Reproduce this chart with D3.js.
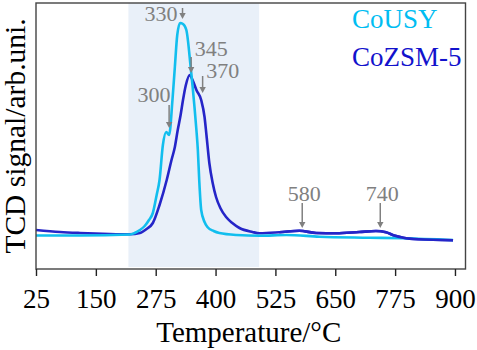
<!DOCTYPE html>
<html>
<head>
<meta charset="utf-8">
<script src="https://cdn.jsdelivr.net/npm/d3@7"></script>
<style>
  html, body { margin: 0; padding: 0; background: #fff; }
  svg { display: block; }
  text { font-family: "Liberation Serif", "Times New Roman", serif; }
</style>
</head>
<body>
<svg id="chart" width="477" height="350"></svg>
<script>
// ---- data (temperature in °C, signal in arbitrary units) ----
const xTicks = [25, 150, 275, 400, 525, 650, 775, 900];
const shadedRange = [218, 491];

const coUSY_T = [25, 117, 221, 231, 242, 252, 261, 269, 277, 283, 290, 297, 303, 310, 315, 320, 326, 332, 339, 348, 356, 360, 363, 366, 370, 377, 383, 396, 408, 444, 492, 548, 617, 721, 792, 896];
const coUSY_V = [33.5, 33.5, 34.5, 36, 39, 43, 49, 56, 74, 89, 124, 137, 134, 169, 202, 234, 246, 245, 239, 202, 162, 139, 119, 88, 59, 47, 42, 38, 36, 34, 33.3, 34, 32.3, 31.3, 30.7, 29];

const coZSM_T = [25, 75, 117, 179, 221, 242, 256, 269, 283, 298, 308, 315, 321, 327, 332, 338, 346, 352, 360, 370, 377, 381, 387, 394, 401, 410, 422, 435, 450, 477, 492, 533, 575, 610, 652, 700, 735, 756, 773, 792, 825, 896];
const coZSM_V = [39, 37, 36, 35, 34.7, 36, 40, 46, 64, 89, 109, 122, 139, 154, 169, 184, 194, 189, 179, 169, 152, 134, 106, 86, 72, 61, 52, 46, 41, 37, 35.7, 36.7, 38.3, 36, 35.7, 37, 38, 36.7, 33.5, 31.3, 29.7, 28.7];

const peakLabels = ["330", "345", "370", "300", "580", "740"];
const peakT      = [331, 349, 373, 303, 581, 744];
const arrowTop   = [261, 212, 193, 164, 66, 66];
const arrowBot   = [250, 196, 176, 141, 41, 41];

const seriesNames  = ["CoUSY", "CoZSM-5"];
const seriesColors = ["#12BEEE", "#2525C8"];
const legendColors = ["#00BDF2", "#1212CC"];

// ---- layout ----
const svg = d3.select("#chart");
const L = 36, R = 465.5, T = 3, B = 269;

const x = d3.scaleLinear().domain([25, 922]).range([L, R]);
const y = d3.scaleLinear().domain([0, 266]).range([B, T]);

// shaded region
svg.append("rect")
  .attr("x", x(shadedRange[0])).attr("y", T)
  .attr("width", x(shadedRange[1]) - x(shadedRange[0]))
  .attr("height", B - T - 2)
  .attr("fill", "#E9F0F9");

// curves
const line = d3.line().x(d => x(d[0])).y(d => y(d[1])).curve(d3.curveMonotoneX);
const series = [
  d3.zip(coZSM_T, coZSM_V),
  d3.zip(coUSY_T, coUSY_V)
];
const colorsOrder = [seriesColors[1], seriesColors[0]];
series.forEach((s, i) => {
  svg.append("path").datum(s)
    .attr("d", line)
    .attr("fill", "none")
    .attr("stroke", colorsOrder[i])
    .attr("stroke-width", 2.6)
    .attr("stroke-linejoin", "round");
});
// dark blue on top along the right-hand baseline
svg.append("path").datum(series[0].filter(d => d[0] >= 500))
  .attr("d", line).attr("fill", "none")
  .attr("stroke", seriesColors[1]).attr("stroke-width", 2.6);

// frame
svg.append("rect")
  .attr("x", L).attr("y", T).attr("width", R - L).attr("height", B - T)
  .attr("fill", "none").attr("stroke", "#444").attr("stroke-width", 1.4);

// x axis
const xAxis = d3.axisBottom(x).tickValues(xTicks).tickSize(7).tickPadding(6).tickFormat(d3.format("d"));
const gx = svg.append("g").attr("transform", `translate(0,${B})`).call(xAxis);
gx.select(".domain").remove();
gx.selectAll(".tick line").attr("stroke", "#222").attr("stroke-width", 1.4);
gx.selectAll(".tick text")
  .attr("fill", "#000")
  .style("font-family", "'Liberation Serif', serif")
  .style("font-size", "27px")
  .attr("dy", "0.71em")
  .attr("y", 20);

// axis titles
svg.append("text")
  .attr("x", (L + R) / 2 - 2).attr("y", 342)
  .attr("text-anchor", "middle")
  .style("font-size", "29px").attr("fill", "#000")
  .text("Temperature/°C");

svg.append("text")
  .attr("transform", `translate(25,${(T + B) / 2}) rotate(-90)`)
  .attr("text-anchor", "middle")
  .style("font-size", "29.5px").attr("fill", "#000")
  .text("TCD signal/arb.uni.");

// legend
seriesNames.forEach((n, i) => {
  svg.append("text")
    .attr("x", 352).attr("y", 28 + i * 38)
    .style("font-size", "27px")
    .attr("fill", legendColors[i])
    .text(n);
});

// peak annotations
const gray = "#808080";
peakLabels.forEach((lab, i) => {
  const ax = x(peakT[i]);
  const y1 = y(arrowTop[i]), y2 = y(arrowBot[i]);
  svg.append("line")
    .attr("x1", ax).attr("x2", ax).attr("y1", y1).attr("y2", y2 - 4)
    .attr("stroke", gray).attr("stroke-width", 1.5);
  svg.append("path")
    .attr("d", `M${ax - 3.2},${y2 - 6} L${ax + 3.2},${y2 - 6} L${ax},${y2} Z`)
    .attr("fill", gray);
  let tx, ty, anchor;
  if (i === 0) { tx = ax - 5; ty = y1 + 13; anchor = "end"; }
  else if (i === 1) { tx = ax + 20; ty = y1 - 1; anchor = "middle"; }
  else if (i === 2) { tx = ax + 20; ty = y1 + 2; anchor = "middle"; }
  else if (i === 3) { tx = ax - 15; ty = y1 - 3; anchor = "middle"; }
  else { tx = ax + 2; ty = y1 - 2; anchor = "middle"; }
  svg.append("text")
    .attr("x", tx).attr("y", ty)
    .attr("text-anchor", anchor)
    .style("font-size", "22px")
    .attr("fill", gray)
    .text(lab);
});
</script>
</body>
</html>
